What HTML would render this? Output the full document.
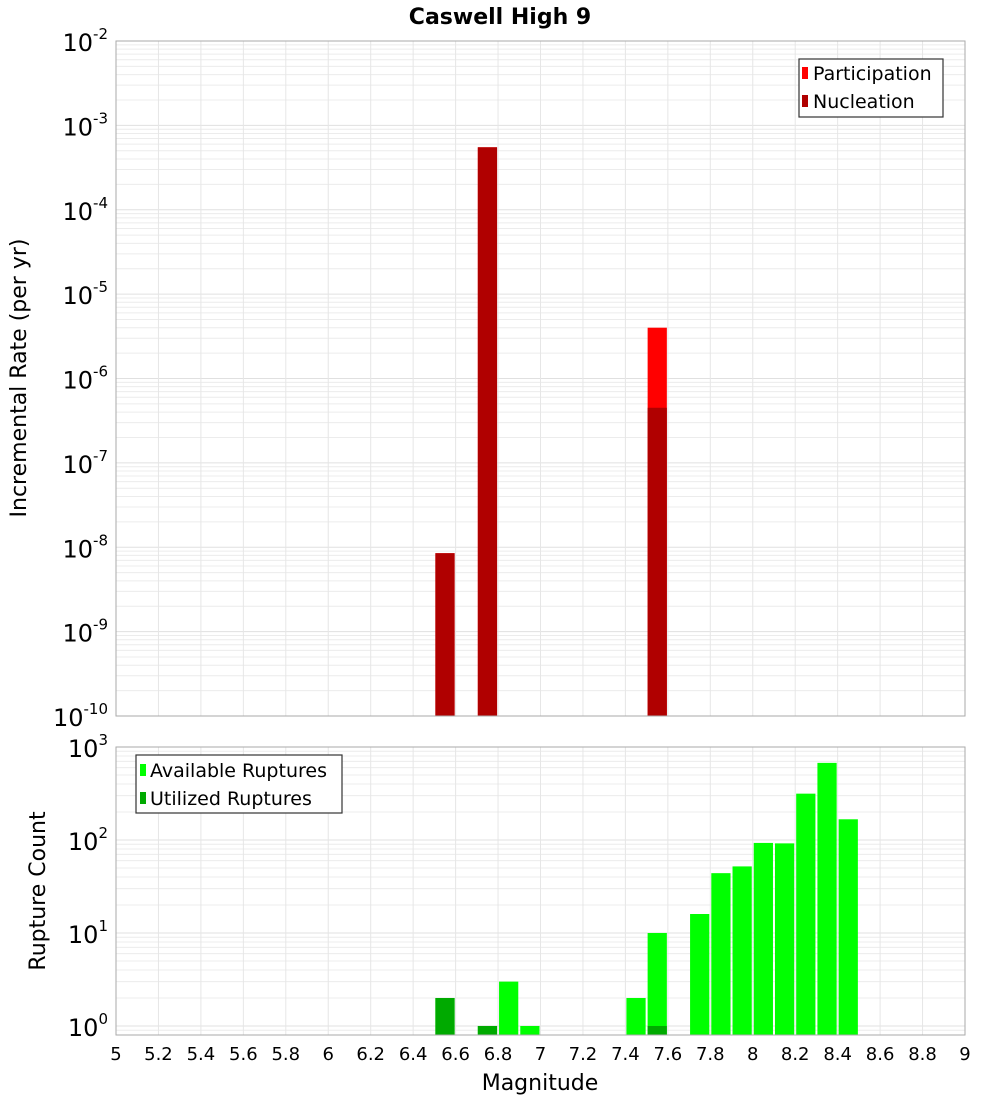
<!DOCTYPE html>
<html><head><meta charset="utf-8"><style>
body{margin:0;background:#fff;}
svg{display:block;font-family:"DejaVu Sans","Liberation Sans",sans-serif;}
</style></head><body>
<svg id="c" width="1000" height="1100" xmlns="http://www.w3.org/2000/svg">
<text x="500" y="24" text-anchor="middle" font-size="22" font-weight="bold">Caswell High 9</text>
<g id="top"></g>
<g id="bot"></g>
<text transform="translate(26,378) rotate(-90)" text-anchor="middle" font-size="22">Incremental Rate (per yr)</text>
<text transform="translate(45,891) rotate(-90)" text-anchor="middle" font-size="22">Rupture Count</text>
<text x="540" y="1090" text-anchor="middle" font-size="22">Magnitude</text>
<g>
<rect x="799" y="59" width="144" height="58" fill="#fff" stroke="#333" stroke-width="1.2"/>
<rect x="802" y="67" width="6" height="12" fill="#ff0000"/>
<text x="813" y="80" font-size="19">Participation</text>
<rect x="802" y="95" width="6" height="12" fill="#b00000"/>
<text x="813" y="108" font-size="19">Nucleation</text>
</g>
<g>
<rect x="136" y="755" width="206" height="58" fill="#fff" stroke="#333" stroke-width="1.2"/>
<rect x="140" y="764" width="6" height="12" fill="#00ff00"/>
<text x="150" y="777" font-size="19">Available Ruptures</text>
<rect x="140" y="792" width="6" height="12" fill="#00aa00"/>
<text x="150" y="805" font-size="19">Utilized Ruptures</text>
</g>
</svg>
<script>
const mags = [6.55, 6.75, 7.55];
const participation = [8.5e-9, 5.5e-4, 4e-6];
const nucleation = [8.5e-9, 5.5e-4, 4.5e-7];
const availMags = [6.55, 6.75, 6.85, 6.95, 7.45, 7.55, 7.75, 7.85, 7.95, 8.05, 8.15, 8.25, 8.35, 8.45];
const available = [2, 1, 3, 1, 2, 10, 16, 44, 52, 93, 92, 315, 675, 167];
const utilMags = [6.55, 6.75, 7.55];
const utilized = [2, 1, 1];
const xTicks = [5,5.2,5.4,5.6,5.8,6,6.2,6.4,6.6,6.8,7,7.2,7.4,7.6,7.8,8,8.2,8.4,8.6,8.8,9];
const topExps = [-2,-3,-4,-5,-6,-7,-8,-9,-10];
const botExps = [0,1,2,3];

const NS = "http://www.w3.org/2000/svg";
const X0 = 116, X1 = 965;
const xs = m => X0 + (m - 5) / 4 * (X1 - X0);
const T = {top:41, bot:716, lo:-10, hi:-2};
const B = {top:747, bot:1035, lo:Math.log10(0.8), hi:3};
const ys = (P, v) => P.bot - (Math.log10(v) - P.lo) / (P.hi - P.lo) * (P.bot - P.top);
function mk(parent, tag, attrs){const e=document.createElementNS(NS,tag);for(const k in attrs)e.setAttribute(k,attrs[k]);parent.appendChild(e);return e;}

function frame(g, P, exps, pre){
  mk(g,'rect',{x:X0,y:P.top,width:X1-X0,height:P.bot-P.top,fill:'#fff'});
  for(let d=Math.floor(P.lo); d<P.hi; d++){
    for(let k=1;k<10;k++){
      const v=k*Math.pow(10,d); const lv=Math.log10(v);
      if(lv<P.lo||lv>P.hi) continue;
      const y=ys(P,v);
      const l=mk(g,'line',{x1:X0,x2:X1,y1:y,y2:y,stroke:k==1?'#e0e0e0':'#ececec','stroke-width':1});
      
      
    }
  }
  xTicks.forEach(t=>{
    const x=xs(t);
    const l=mk(g,'line',{x1:x,x2:x,y1:P.top,y2:P.bot,stroke:'#e6e6e6','stroke-width':1});
    
    
  });
  exps.forEach(e=>{
    const y=ys(P,Math.pow(10,e));
    const t=mk(g,'text',{x:108,y:y+10,'text-anchor':'end','font-size':24});
    
    
    const a=mk(t,'tspan',{}); a.textContent='10';
    const b=mk(t,'tspan',{dy:-12,'font-size':15}); b.textContent=String(e);
  });
}
function border(g,P){mk(g,'rect',{x:X0,y:P.top,width:X1-X0,height:P.bot-P.top,fill:'none',stroke:'#aaa','stroke-width':1});}
function bar(g,P,m,v,fill,name){
  const w=xs(0.1+5)-X0;
  const y=ys(P,v);
  const r=mk(g,'rect',{x:xs(m)-w/2+1,y:y,width:w-2,height:P.bot-y,fill:fill});
  
  
}
const gt=document.getElementById('top'), gb=document.getElementById('bot');
frame(gt,T,topExps,'top');
mags.forEach((m,i)=>bar(gt,T,m,participation[i],'#ff0000','participation-bar'));
mags.forEach((m,i)=>bar(gt,T,m,nucleation[i],'#b00000','nucleation-bar'));
border(gt,T);
frame(gb,B,botExps,'bottom');
availMags.forEach((m,i)=>bar(gb,B,m,available[i],'#00ff00','available-bar'));
utilMags.forEach((m,i)=>bar(gb,B,m,utilized[i],'#00aa00','utilized-bar'));
border(gb,B);
xTicks.forEach(t=>{
  const tx=mk(gb,'text',{x:xs(t),y:1060,'text-anchor':'middle','font-size':18});
  
  
  tx.textContent=String(t);
});
</script>
</body></html>
